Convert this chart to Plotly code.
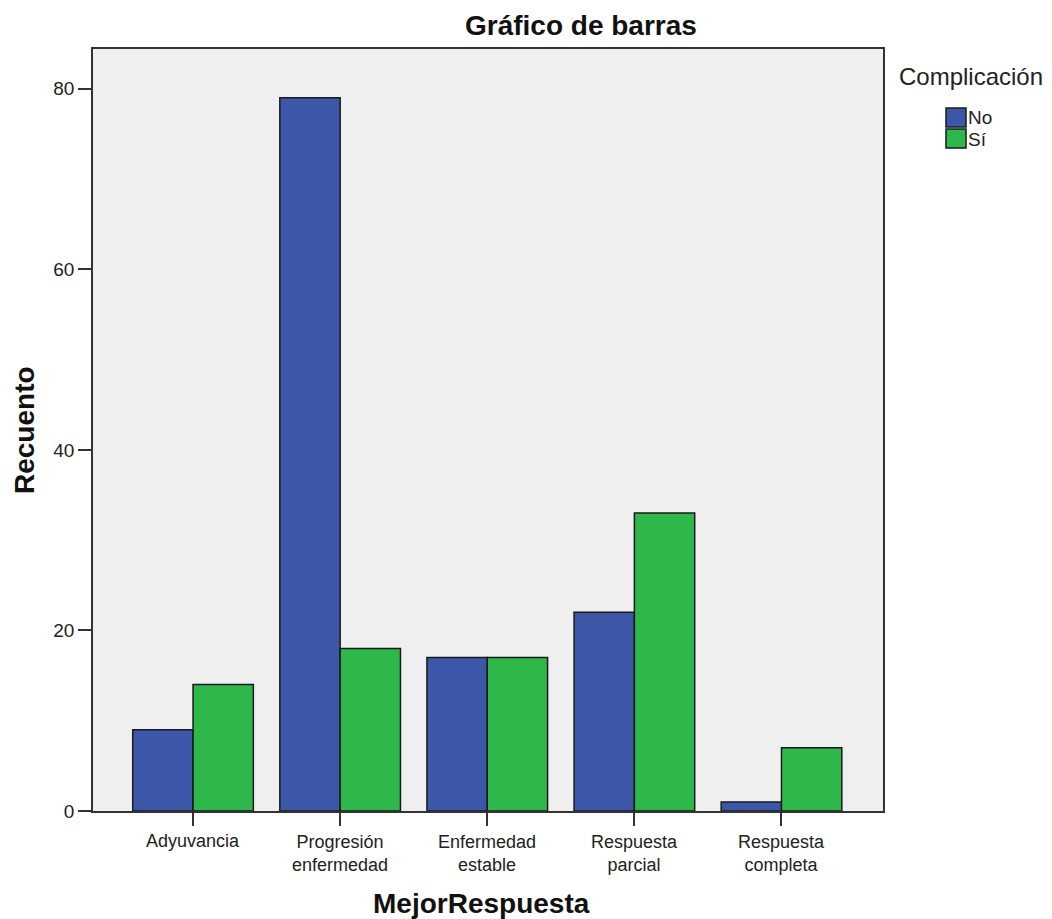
import plotly.graph_objects as go

# datos
categorias = [["Adyuvancia"], ["Progresión", "enfermedad"], ["Enfermedad", "estable"],
              ["Respuesta", "parcial"], ["Respuesta", "completa"]]
series = ["No", "Sí"]
valores_no = [9, 79, 17, 22, 1]
valores_si = [14, 18, 17, 33, 7]
ticks_y = [0, 20, 40, 60, 80]

AZUL = '#3d57a8'
VERDE = '#2eb84b'
FONDO = '#efefef'
BORDE = '#1a1a1a'
FUENTE = 'Liberation Sans, Arial, sans-serif'

# área del gráfico en píxeles de pantalla (izq, der, arriba, abajo)
X0, X1, Y0, Y1 = 93, 883, 49, 811


def px_x(sx):
    return (sx - X0) / (X1 - X0)


def px_y(sy):
    return (Y1 - sy) / (Y1 - Y0)


fig = go.Figure()
for nombre, vals, color in [(series[0], valores_no, AZUL), (series[1], valores_si, VERDE)]:
    fig.add_trace(go.Bar(x=list(range(len(vals))), y=vals, name=nombre, marker_color=color,
                         marker_line=dict(color=BORDE, width=1.5), showlegend=False))

fig.update_layout(
    width=1052, height=919,
    margin=dict(l=X0 - 8, r=1052 - X1 + 8, t=Y0 - 8, b=919 - Y1 + 8),
    paper_bgcolor='white', plot_bgcolor=FONDO,
    barmode='group', bargap=0.18, bargroupgap=0,
    font=dict(family=FUENTE, size=19, color='#222222'),
)

fig.update_xaxes(
    range=[-0.68, 4.69], tickmode='array', tickvals=list(range(5)), showticklabels=False,
    showgrid=False, zeroline=False, ticks='outside', ticklen=13, tickwidth=1.5, tickcolor='#333333',
    showline=True, linecolor='#333333', linewidth=1.5, mirror=True,
)
fig.update_yaxes(
    range=[0, 84.4], tickmode='array', tickvals=ticks_y,
    showgrid=False, zeroline=False, ticks='outside', ticklen=13, tickwidth=1.5, tickcolor='#333333',
    showline=True, linecolor='#333333', linewidth=1.5, mirror=True,
    tickfont=dict(size=19),
)

# etiquetas del eje X
for i, lineas in enumerate(categorias):
    fig.add_annotation(text='<br>'.join(lineas), xref='x', yref='paper', x=i, y=0,
                       yshift=-30 - 12 * (len(lineas) - 1), yanchor='middle', showarrow=False,
                       font=dict(size=18, color='#222222'))

# títulos
fig.add_annotation(text='<b>Gráfico de barras</b>', xref='paper', yref='paper',
                   x=px_x(581), y=px_y(25), xanchor='center', yanchor='middle', showarrow=False,
                   font=dict(size=28, color='#111111'))
fig.add_annotation(text='<b>MejorRespuesta</b>', xref='paper', yref='paper',
                   x=px_x(481), y=px_y(903), xanchor='center', yanchor='middle', showarrow=False,
                   font=dict(size=28, color='#111111'))
fig.add_annotation(text='<b>Recuento</b>', xref='paper', yref='paper',
                   x=px_x(24), y=px_y(430), xanchor='center', yanchor='middle',
                   textangle=-90, showarrow=False,
                   font=dict(size=28, color='#111111'))

# leyenda
fig.add_annotation(text='Complicación', xref='paper', yref='paper',
                   x=px_x(897), y=px_y(76), xanchor='left', yanchor='middle', showarrow=False,
                   font=dict(size=24, color='#222222'))
for k, (nombre, color) in enumerate([(series[0], AZUL), (series[1], VERDE)]):
    top = 108 + 21 * k
    fig.add_shape(type='rect', xref='paper', yref='paper',
                  x0=px_x(946), x1=px_x(966), y0=px_y(top + 19), y1=px_y(top),
                  fillcolor=color, line=dict(color=BORDE, width=1.5))
    fig.add_annotation(text=nombre, xref='paper', yref='paper',
                       x=px_x(966), y=px_y(top + 10), xanchor='left', yanchor='middle',
                       showarrow=False, font=dict(size=19, color='#222222'))

fig.write_html("out.html")
